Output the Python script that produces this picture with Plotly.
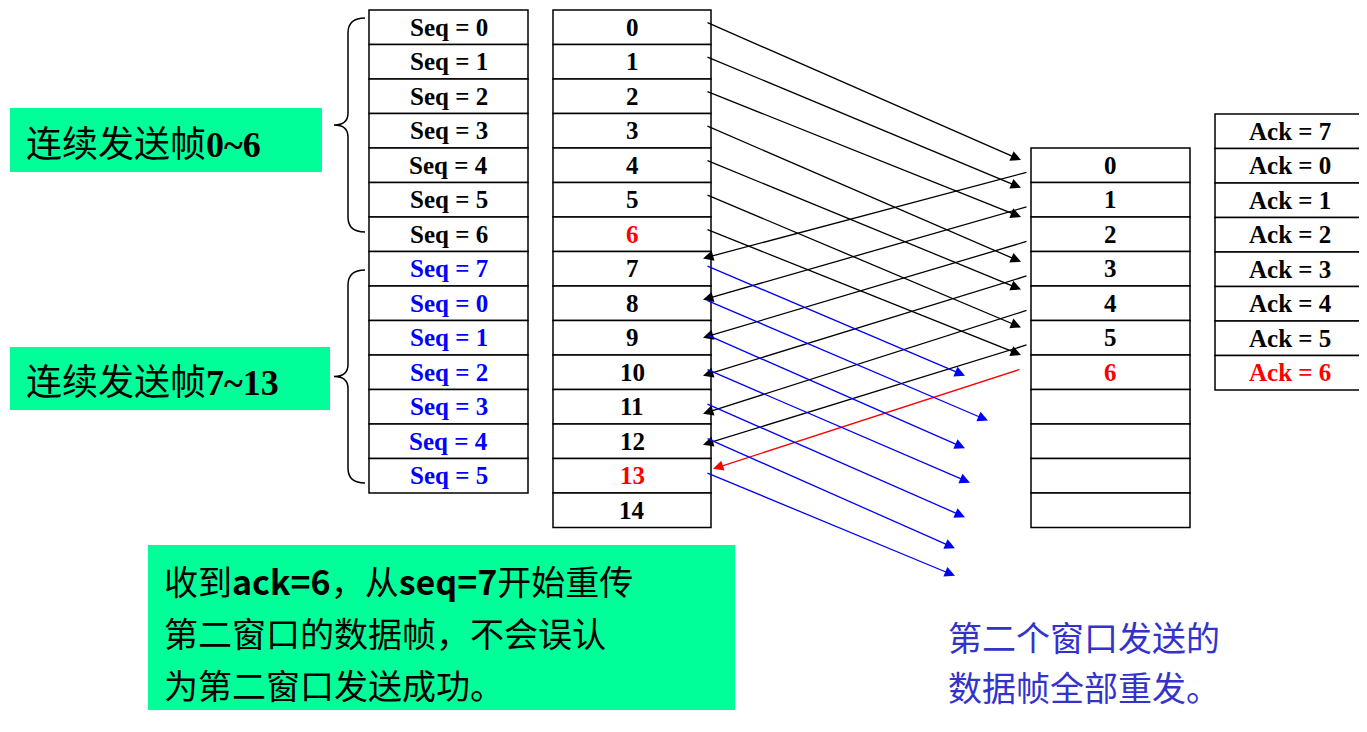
import plotly.graph_objects as go

# column labels
seq_labels = ["Seq = %d" % s for s in [0, 1, 2, 3, 4, 5, 6, 7, 0, 1, 2, 3, 4, 5]]
frame_labels = [str(i) for i in range(15)]
recv_labels = ["0", "1", "2", "3", "4", "5", "6", "", "", "", ""]
ack_labels = ["Ack = %d" % a for a in [7, 0, 1, 2, 3, 4, 5, 6]]

# arrows as (from row, to row)
data_arrows = [(0, 0.35), (1, 1.15), (2, 2.0), (3, 3.3), (4, 4.1), (5, 5.2), (6, 6.0)]
ack_arrows = [(0, 7.2), (1, 8.4), (2, 9.5), (3, 10.6), (4, 11.7), (5, 12.6)]
red_ack = (6.0, 13.3)
blue_arrows = [(7, 6.6, 965), (8, 7.9, 988), (9, 8.7, 965), (10, 9.7, 970),
               (11, 10.7, 965), (12, 11.6, 955), (13, 12.4, 955)]

left_note = ["收到<b>ack=6</b>，从<b>seq=7</b>开始重传", "第二窗口的数据帧，不会误认", "为第二窗口发送成功。"]
right_note = ["第二个窗口发送的", "数据帧全部重发。"]

RH = 34.5
SEQ_X, SEQ_TOP = (369, 528), 10
FR_X, FR_TOP = (553, 711), 10
RC_X, RC_TOP = (1031, 1190), 148
AK_X, AK_TOP = (1215, 1365), 114
SERIF = "Liberation Serif"
CJK = "Noto Sans CJK SC"

fig = go.Figure()
shapes = []
ann = []


def column(labels, xs, top, colors):
    for i, lab in enumerate(labels):
        y0 = top + i * RH
        shapes.append(dict(type="rect", x0=xs[0], x1=xs[1], y0=y0, y1=y0 + RH,
                           line=dict(color="black", width=1.5), fillcolor="white"))
        ann.append(dict(x=(xs[0] + xs[1]) / 2, y=y0 + RH / 2, text="<b>%s</b>" % lab,
                        showarrow=False, font=dict(family=SERIF, size=25, color=colors(i))))


column(seq_labels, SEQ_X, SEQ_TOP, lambda i: "blue" if i >= 7 else "black")
column(frame_labels, FR_X, FR_TOP, lambda i: "red" if i in (6, 13) else "black")
column(recv_labels, RC_X, RC_TOP, lambda i: "red" if i == 6 else "black")
column(ack_labels, AK_X, AK_TOP, lambda i: "red" if i == 7 else "black")


def arrow(x0, y0, x1, y1, color):
    ann.append(dict(x=x1, y=y1, ax=x0, ay=y0, xref="x", yref="y", axref="x", ayref="y",
                    text="", showarrow=True, arrowhead=2, arrowsize=1.6, arrowwidth=1.3,
                    arrowcolor=color))


for a, b in data_arrows:
    arrow(FR_X[1] - 5, FR_TOP + a * RH + 12, RC_X[0] - 10, RC_TOP + b * RH, "black")
for a, b in ack_arrows:
    arrow(RC_X[0] - 3, RC_TOP + a * RH + 24, FR_X[1] - 8, FR_TOP + b * RH, "black")
arrow(RC_X[0] - 10, RC_TOP + red_ack[0] * RH + 14, FR_X[1] + 2, FR_TOP + red_ack[1] * RH, "red")
for a, b, xe in blue_arrows:
    arrow(FR_X[1] - 5, FR_TOP + a * RH + 14, xe, RC_TOP + b * RH, "blue")

# braces
for y0, y1 in [(18, 232), (270, 483)]:
    m = (y0 + y1) / 2
    path = ("M 365 %f Q 348 %f 348 %f L 348 %f Q 348 %f 334 %f Q 348 %f 348 %f "
            "L 348 %f Q 348 %f 365 %f") % (y0, y0, y0 + 15, m - 12, m, m, m, m + 12,
                                           y1 - 15, y1, y1)
    shapes.append(dict(type="path", path=path, line=dict(color="black", width=1.5)))

green = "#00FF99"
for x0, x1, y0, y1 in [(10, 322, 108, 172), (10, 330, 347, 410), (148, 735, 545, 710)]:
    shapes.append(dict(type="rect", x0=x0, x1=x1, y0=y0, y1=y1, line=dict(width=0),
                       fillcolor=green, layer="below"))
ann.append(dict(x=24, y=141, text="连续发送帧<b style='font-family:Liberation Serif'>0~6</b>",
                showarrow=False, xanchor="left", font=dict(family=CJK, size=36, color="black")))
ann.append(dict(x=24, y=379, text="连续发送帧<b style='font-family:Liberation Serif'>7~13</b>",
                showarrow=False, xanchor="left", font=dict(family=CJK, size=36, color="black")))
for i, line in enumerate(left_note):
    ann.append(dict(x=162, y=580 + i * 52, xanchor="left", showarrow=False, text=line,
                    font=dict(family=CJK, size=34, color="black")))
for i, line in enumerate(right_note):
    ann.append(dict(x=946, y=636 + i * 50, xanchor="left", showarrow=False, text=line,
                    font=dict(family=CJK, size=34, color="#3333CC")))

fig.update_layout(width=1367, height=732, margin=dict(l=0, r=0, t=0, b=0),
                  plot_bgcolor="white", paper_bgcolor="white", shapes=shapes, annotations=ann,
                  xaxis=dict(range=[8, 1375], visible=False, fixedrange=True),
                  yaxis=dict(range=[740, 8], visible=False, fixedrange=True),
                  showlegend=False)
fig.write_html("out.html")
